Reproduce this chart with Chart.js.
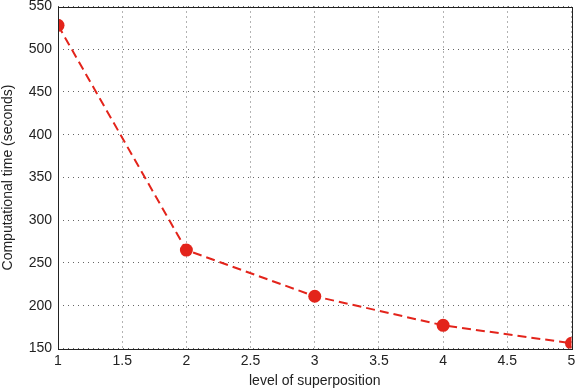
<!DOCTYPE html>
<html>
<head>
<meta charset="utf-8">
<script src="https://cdn.jsdelivr.net/npm/chart.js@4"></script>
<style>
  html, body { margin: 0; padding: 0; background: #fff; }
  #wrap { width: 578px; height: 392px; }
</style>
</head>
<body>
<div id="wrap"><canvas id="chart" width="578" height="392"></canvas></div>
<script>
// level of superposition vs computational time
const levels = [1, 2, 3, 4, 5];
const times = [528, 265, 211, 177, 156];
const xTicks = [1, 1.5, 2, 2.5, 3, 3.5, 4, 4.5, 5];
const yTicks = [150, 200, 250, 300, 350, 400, 450, 500, 550];

const points = levels.map((x, i) => ({ x: x, y: times[i] }));

// draw the full box around the plot area like matlab
const boxPlugin = {
  id: 'box',
  afterDraw(chart) {
    const { ctx, chartArea: a } = chart;
    ctx.save();
    ctx.strokeStyle = '#222';
    ctx.lineWidth = 1;
    ctx.strokeRect(Math.round(a.left) + 0.5, Math.round(a.top) + 0.5,
      Math.round(a.right - a.left), Math.round(a.bottom - a.top));
    ctx.restore();
  }
};

const gridStyle = {
  color: 'rgba(0,0,0,0.6)',
  lineWidth: 1,
  drawTicks: false
};

new Chart(document.getElementById('chart'), {
  type: 'scatter',
  data: {
    datasets: [{
      data: points,
      showLine: true,
      tension: 0,
      borderColor: '#e3241b',
      backgroundColor: '#e3241b',
      borderWidth: 2,
      borderDash: [9, 5],
      pointRadius: 6.5,
      pointHoverRadius: 6.5,
      pointBorderWidth: 0
    }]
  },
  options: {
    responsive: false,
    animation: false,
    layout: { padding: { top: 6, right: 2, left: 0, bottom: 2 } },
    plugins: {
      legend: { display: false },
      tooltip: { enabled: false }
    },
    scales: {
      x: {
        type: 'linear',
        min: 1,
        max: 5,
        afterBuildTicks(scale) { scale.ticks = xTicks.map(v => ({ value: v })); },
        afterFit(scale) { scale.paddingLeft = 0; scale.paddingRight = 0; },
        grid: gridStyle,
        border: { display: false, dash: [1, 4] },
        ticks: {
          color: '#222',
          font: { family: 'Liberation Sans', size: 14 },
          padding: 4,
          maxRotation: 0,
          callback: v => String(v)
        },
        title: {
          display: true,
          text: 'level of superposition',
          color: '#222',
          font: { family: 'Liberation Sans', size: 14 },
          padding: { top: 0, bottom: 0 }
        }
      },
      y: {
        type: 'linear',
        min: 150,
        max: 550,
        afterBuildTicks(scale) { scale.ticks = yTicks.map(v => ({ value: v })); },
        afterFit(scale) { scale.width = 58; scale.paddingTop = 0; scale.paddingBottom = 0; },
        grid: gridStyle,
        border: { display: false, dash: [1, 4] },
        ticks: {
          color: '#222',
          font: { family: 'Liberation Sans', size: 14 },
          padding: 6
        },
        title: {
          display: true,
          text: 'Computational time (seconds)',
          color: '#222',
          font: { family: 'Liberation Sans', size: 14 },
          padding: { top: 0, bottom: 0 }
        }
      }
    }
  },
  plugins: [boxPlugin]
});
</script>
</body>
</html>
